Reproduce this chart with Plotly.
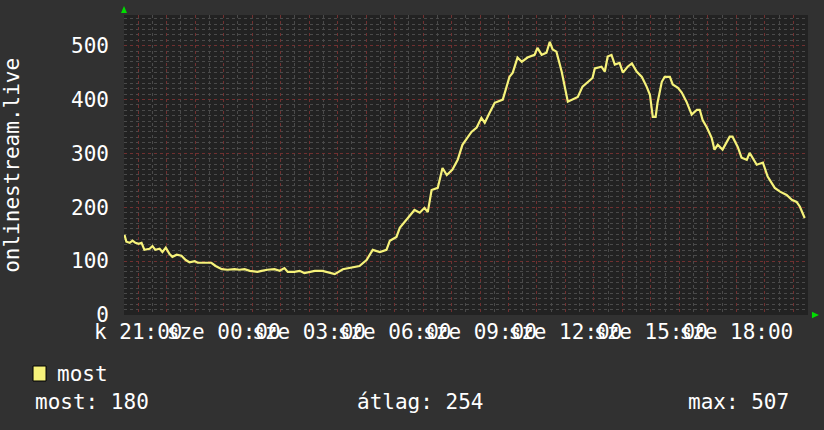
import plotly.graph_objects as go
import pandas as pd

# mérési időpontok (k = kedd, sze = szerda)
times = [
    "2024-01-02 20:31", "2024-01-02 20:35", "2024-01-02 20:42", "2024-01-02 20:48", "2024-01-02 20:54",
    "2024-01-02 21:01", "2024-01-02 21:07", "2024-01-02 21:13", "2024-01-02 21:24", "2024-01-02 21:30",
    "2024-01-02 21:36", "2024-01-02 21:45", "2024-01-02 21:51", "2024-01-02 21:58", "2024-01-02 22:06",
    "2024-01-02 22:12", "2024-01-02 22:21", "2024-01-02 22:31", "2024-01-02 22:40", "2024-01-02 22:48",
    "2024-01-02 22:59", "2024-01-02 23:05", "2024-01-02 23:20", "2024-01-02 23:34", "2024-01-02 23:43",
    "2024-01-02 23:56", "2024-01-03 00:08", "2024-01-03 00:23", "2024-01-03 00:33", "2024-01-03 00:44",
    "2024-01-03 00:55", "2024-01-03 01:11", "2024-01-03 01:20", "2024-01-03 01:32", "2024-01-03 01:47",
    "2024-01-03 01:58", "2024-01-03 02:08", "2024-01-03 02:15", "2024-01-03 02:29", "2024-01-03 02:40",
    "2024-01-03 02:50", "2024-01-03 03:01", "2024-01-03 03:12", "2024-01-03 03:28", "2024-01-03 03:54",
    "2024-01-03 04:11", "2024-01-03 04:25", "2024-01-03 04:46", "2024-01-03 05:01", "2024-01-03 05:14",
    "2024-01-03 05:29", "2024-01-03 05:43", "2024-01-03 05:50", "2024-01-03 06:04", "2024-01-03 06:11",
    "2024-01-03 06:25", "2024-01-03 06:42", "2024-01-03 06:53", "2024-01-03 07:03", "2024-01-03 07:10",
    "2024-01-03 07:18", "2024-01-03 07:31", "2024-01-03 07:41", "2024-01-03 07:50", "2024-01-03 08:02",
    "2024-01-03 08:13", "2024-01-03 08:23", "2024-01-03 08:42", "2024-01-03 08:53", "2024-01-03 09:03",
    "2024-01-03 09:10", "2024-01-03 09:20", "2024-01-03 09:31", "2024-01-03 09:48", "2024-01-03 09:56",
    "2024-01-03 10:02", "2024-01-03 10:09", "2024-01-03 10:19", "2024-01-03 10:28", "2024-01-03 10:40",
    "2024-01-03 10:55", "2024-01-03 11:01", "2024-01-03 11:10", "2024-01-03 11:20", "2024-01-03 11:27",
    "2024-01-03 11:33", "2024-01-03 11:41", "2024-01-03 11:52", "2024-01-03 12:05", "2024-01-03 12:15",
    "2024-01-03 12:26", "2024-01-03 12:36", "2024-01-03 12:47", "2024-01-03 12:57", "2024-01-03 13:02",
    "2024-01-03 13:16", "2024-01-03 13:23", "2024-01-03 13:29", "2024-01-03 13:37", "2024-01-03 13:44",
    "2024-01-03 13:54", "2024-01-03 14:01", "2024-01-03 14:11", "2024-01-03 14:20", "2024-01-03 14:30",
    "2024-01-03 14:41", "2024-01-03 14:51", "2024-01-03 14:58", "2024-01-03 15:04", "2024-01-03 15:10",
    "2024-01-03 15:14", "2024-01-03 15:23", "2024-01-03 15:29", "2024-01-03 15:40", "2024-01-03 15:46",
    "2024-01-03 15:57", "2024-01-03 16:05", "2024-01-03 16:15", "2024-01-03 16:26", "2024-01-03 16:37",
    "2024-01-03 16:43", "2024-01-03 16:49", "2024-01-03 16:58", "2024-01-03 17:08", "2024-01-03 17:14",
    "2024-01-03 17:21", "2024-01-03 17:31", "2024-01-03 17:46", "2024-01-03 17:52", "2024-01-03 18:03",
    "2024-01-03 18:11", "2024-01-03 18:22", "2024-01-03 18:28", "2024-01-03 18:43", "2024-01-03 18:56",
    "2024-01-03 19:06", "2024-01-03 19:21", "2024-01-03 19:32", "2024-01-03 19:46", "2024-01-03 19:57",
    "2024-01-03 20:07", "2024-01-03 20:14", "2024-01-03 20:24",
]

# hallgatók száma
listeners = [
    149, 136, 134, 138, 134, 132, 134, 121, 123, 128,
    121, 123, 117, 125, 113, 108, 112, 110, 102, 98,
    100, 97, 97, 97, 91, 85, 84, 85, 84, 85,
    82, 80, 82, 84, 85, 82, 87, 80, 80, 82,
    78, 80, 82, 82, 76, 85, 87, 91, 102, 121,
    117, 121, 138, 145, 162, 177, 195, 190, 199, 191,
    232, 236, 273, 260, 270, 288, 316, 340, 348, 366,
    357, 375, 394, 400, 422, 442, 450, 478, 470, 478,
    483, 496, 483, 487, 507, 493, 489, 452, 396, 400,
    405, 424, 433, 440, 458, 461, 452, 480, 483, 465,
    468, 450, 461, 467, 452, 442, 424, 409, 368, 368,
    394, 433, 442, 442, 428, 422, 413, 396, 372, 381,
    381, 362, 348, 329, 307, 316, 307, 331, 331, 312,
    292, 288, 301, 279, 283, 257, 236, 229, 223, 214,
    210, 201, 180,
]

# tengelyfeliratok: minden órára rács, minden harmadikra felirat
hour_ticks = pd.date_range("2024-01-02 21:00", "2024-01-03 20:00", freq="1h")
hour_labels = [
    ("k " if t.day == 2 else "sze ") + t.strftime("%H:%M") if t.hour % 3 == 0 else ""
    for t in hour_ticks
]

stat_most = 180
stat_atlag = 254
stat_max = 507

FONT = "DejaVu Sans Mono"
BG = "#313131"
PLOT_BG = "#222222"
MINOR = "#4a4a4a"
MAJOR = "#703030"
YELLOW = "#f6f27a"

fig = go.Figure()

fig.add_trace(go.Scatter(
    x=pd.to_datetime(times),
    y=listeners,
    mode="lines",
    name="most",
    line=dict(color=YELLOW, width=2.2),
    showlegend=False,
))

fig.update_layout(
    width=824,
    height=430,
    margin=dict(l=124, r=16, t=15, b=115),
    paper_bgcolor=BG,
    plot_bgcolor=PLOT_BG,
    font=dict(family=FONT, size=21, color="#ffffff"),
    xaxis=dict(
        range=["2024-01-02 20:30", "2024-01-03 20:31"],
        tickmode="array",
        tickvals=list(hour_ticks),
        ticktext=hour_labels,
        tickangle=0,
        ticks="",
        ticklabelstandoff=2,
        showgrid=True,
        gridcolor=MAJOR,
        griddash="dot",
        gridwidth=1,
        minor=dict(dtick=30 * 60 * 1000, showgrid=True, gridcolor=MINOR,
                   griddash="dot", gridwidth=1),
        zeroline=False,
        showline=False,
        fixedrange=True,
    ),
    yaxis=dict(
        range=[0, 557],
        tickmode="linear",
        tick0=0,
        dtick=100,
        ticks="",
        ticklabelstandoff=14,
        showgrid=True,
        gridcolor=MAJOR,
        griddash="dot",
        gridwidth=1,
        minor=dict(dtick=10, showgrid=True, gridcolor=MINOR,
                   griddash="dot", gridwidth=1),
        zeroline=False,
        showline=False,
        fixedrange=True,
    ),
)

# függőleges tengelycím
fig.add_annotation(
    text="onlinestream.live", xref="paper", yref="paper",
    x=-0.164, y=0.5, textangle=-90, showarrow=False,
    xanchor="center", yanchor="middle",
    font=dict(family=FONT, size=21, color="#ffffff"),
)

# zöld nyilak a tengelyek végén
fig.add_shape(type="path", xref="paper", yref="paper",
              path="M -0.0044 1.007 L 0.0044 1.007 L 0 1.03 Z",
              fillcolor="#00dd00", line=dict(width=0))
fig.add_shape(type="path", xref="paper", yref="paper",
              path="M 1.0058 0.011 L 1.0058 -0.011 L 1.016 0 Z",
              fillcolor="#00dd00", line=dict(width=0))

# jelmagyarázat
fig.add_shape(type="rect", xref="paper", yref="paper",
              x0=-0.133, x1=-0.114, y0=-0.22, y1=-0.17,
              fillcolor=YELLOW, line=dict(color="#000000", width=1))
fig.add_annotation(text="most", xref="paper", yref="paper",
                   x=-0.101, y=-0.197, showarrow=False,
                   xanchor="left", yanchor="middle")
fig.add_annotation(text=f"most: {stat_most}", xref="paper", yref="paper",
                   x=-0.133, y=-0.29, showarrow=False,
                   xanchor="left", yanchor="middle")
fig.add_annotation(text=f"átlag: {stat_atlag}", xref="paper", yref="paper",
                   x=0.3377, y=-0.29, showarrow=False,
                   xanchor="left", yanchor="middle")
fig.add_annotation(text=f"max: {stat_max}", xref="paper", yref="paper",
                   x=0.975, y=-0.29, showarrow=False,
                   xanchor="right", yanchor="middle")

# az oldal alapértelmezett margója nélkül, eszköztár nélkül
fig.write_html(
    "out.html",
    config={"displayModeBar": False, "staticPlot": True},
    post_script="document.body.style.margin='0';document.body.style.background='#313131';",
)
